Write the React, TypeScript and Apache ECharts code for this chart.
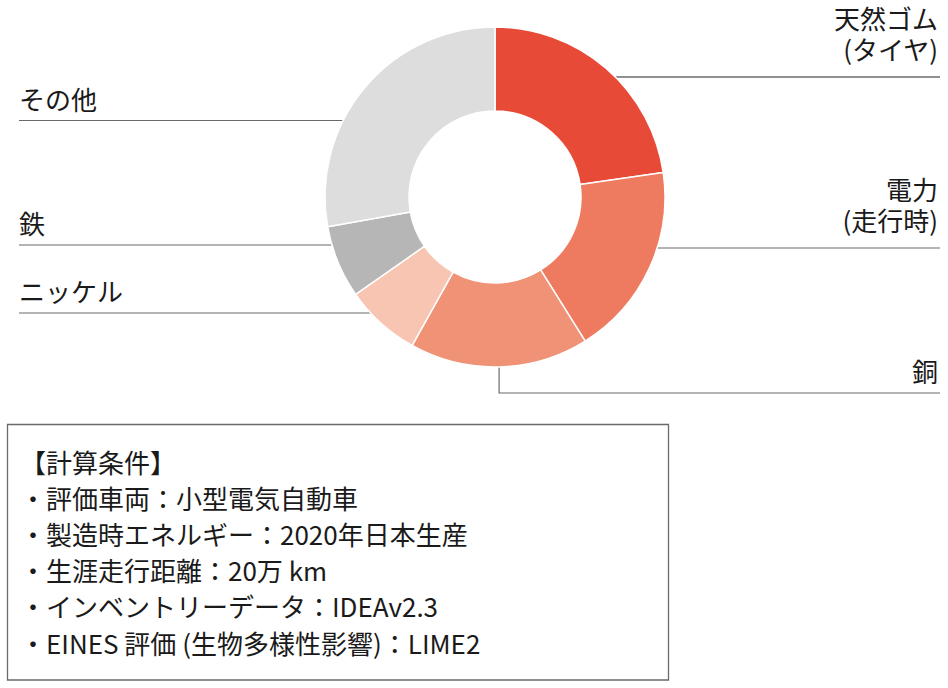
import { useEffect, useRef } from 'react'
import * as echarts from 'echarts'

// slice data (clockwise from 12 o'clock)
const sliceNames = ['天然ゴム\n(タイヤ)', '電力\n(走行時)', '銅', 'ニッケル', '鉄', 'その他']
const sliceValues = [22.7, 18.4, 17.0, 7.2, 6.9, 27.8]
const sliceColors = ['#e84a38', '#ee7a5f', '#ef9275', '#f7c5b1', '#b5b6b5', '#dcdddc']

// calculation conditions box
const conditions = [
  '【計算条件】',
  '・評価車両：小型電気自動車',
  '・製造時エネルギー：2020年日本生産',
  '・生涯走行距離：20万 km',
  '・インベントリーデータ：IDEAv2.3',
  '・EINES 評価 (生物多様性影響)：LIME2'
]

const FONT = '"Noto Sans CJK JP", "Noto Sans", sans-serif'
const CX = 495
const CY = 197
const R_OUT = 170
const R_IN = 86
const LEADER_R = 155
// pixel rows of the leader lines, one per slice (layout only)
const leaderRows = [77, 248, 393, 313, 245, 120.5]
const LEFT_EDGE = 19
const RIGHT_EDGE = 940

export default function App(): JSX.Element {
  const chartRef = useRef<HTMLDivElement>(null)

  useEffect(() => {
    if (!chartRef.current) return
    const chart = echarts.init(chartRef.current, undefined, { renderer: 'svg' })

    const data = sliceNames.map((name, i) => ({
      name,
      value: sliceValues[i],
      itemStyle: { color: sliceColors[i] },
      labelLine: { lineStyle: { color: i === 0 ? '#222' : '#6a6a6a' } }
    }))

    const option: echarts.EChartsOption = {
      animation: false,
      backgroundColor: '#ffffff',
      series: [
        {
          type: 'pie',
          center: [CX, CY],
          radius: [R_IN, R_OUT],
          startAngle: 90,
          clockwise: true,
          avoidLabelOverlap: false,
          silent: true,
          data,
          itemStyle: { borderColor: '#ffffff', borderWidth: 1.5 },
          label: {
            show: true,
            position: 'outside',
            formatter: '{b}',
            color: '#1a1a1a',
            fontSize: 26,
            lineHeight: 31,
            fontFamily: FONT
          },
          labelLine: { show: true, length: 10, length2: 10, lineStyle: { width: 1.2 } },
          labelLayout: (p: any) => {
            const i = p.dataIndex
            const level = leaderRows[i]
            const p0 = p.labelLinePoints ? p.labelLinePoints[0] : [CX, CY + R_OUT]
            const len = Math.hypot(p0[0] - CX, p0[1] - CY) || 1
            const ux = (p0[0] - CX) / len
            const uy = (p0[1] - CY) / len
            const right = ux >= 0
            const edge = right ? RIGHT_EDGE : LEFT_EDGE
            let pts: number[][]
            if (Math.abs(level - CY) > LEADER_R) {
              // slice at the bottom: drop straight down, then run right
              const sx = CX + ux * 163
              const sy = CY + uy * 163
              pts = [[sx, sy], [sx, level], [edge, level]]
            } else {
              const dx = Math.sqrt(LEADER_R * LEADER_R - (level - CY) * (level - CY))
              const sx = CX + (right ? dx : -dx)
              pts = [[sx, level], [(sx + edge) / 2, level], [edge, level]]
            }
            const twoLines = sliceNames[i].indexOf('\n') >= 0
            return {
              x: right ? 938 : 19,
              y: level - (twoLines ? 13 : 7),
              align: right ? 'right' : 'left',
              verticalAlign: 'bottom',
              labelLinePoints: pts
            }
          }
        }
      ],
      graphic: [
        {
          type: 'rect',
          shape: { x: 7.5, y: 424.5, width: 661, height: 255.5 },
          style: { fill: 'none', stroke: '#6a6a6a', lineWidth: 1.3 }
        },
        ...conditions.map((t, i) => ({
          type: 'text' as const,
          x: 20,
          y: 461 + i * 36.2,
          style: {
            text: t,
            fill: '#1a1a1a',
            font: `26px ${FONT}`,
            textVerticalAlign: 'middle' as const
          }
        }))
      ]
    }

    chart.setOption(option)
    return () => {
      chart.dispose()
    }
  }, [])

  return (
    <div
      ref={chartRef}
      style={{ position: 'absolute', left: 0, top: 0, width: 948, height: 688 }}
    />
  )
}
